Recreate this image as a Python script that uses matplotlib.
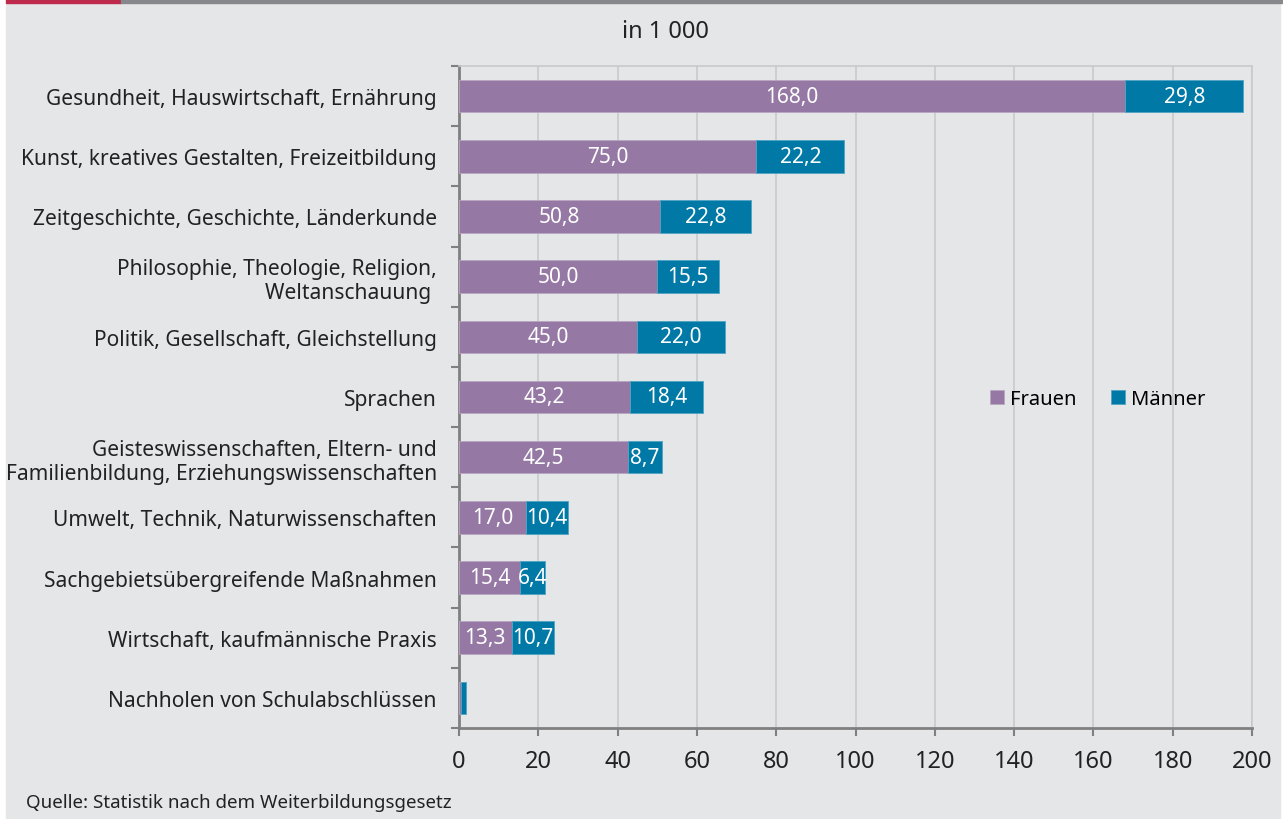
import numpy as np
import matplotlib.pyplot as plt
from matplotlib.patches import Rectangle

plt.rcParams['font.family'] = ['Noto Sans', 'DejaVu Sans']

categories = [
    "Gesundheit, Hauswirtschaft, Ernährung",
    "Kunst, kreatives Gestalten, Freizeitbildung",
    "Zeitgeschichte, Geschichte, Länderkunde",
    "Philosophie, Theologie, Religion,\nWeltanschauung ",
    "Politik, Gesellschaft, Gleichstellung",
    "Sprachen",
    "Geisteswissenschaften, Eltern- und\nFamilienbildung, Erziehungswissenschaften",
    "Umwelt, Technik, Naturwissenschaften",
    "Sachgebietsübergreifende Maßnahmen",
    "Wirtschaft, kaufmännische Praxis",
    "Nachholen von Schulabschlüssen",
]
frauen = [168.0, 75.0, 50.8, 50.0, 45.0, 43.2, 42.5, 17.0, 15.4, 13.3, 0.5]
maenner = [29.8, 22.2, 22.8, 15.5, 22.0, 18.4, 8.7, 10.4, 6.4, 10.7, 1.2]
x_ticks = [0, 20, 40, 60, 80, 100, 120, 140, 160, 180, 200]

bg = "#e5e6e8"
purple = "#9579a4"
blue = "#0079a6"
txt = "#222222"

fig = plt.figure(figsize=(12.83, 8.2), dpi=100, facecolor="white")
# grey panel and coloured stripe on top
fig.patches.append(Rectangle((6 / 1283, 0), 1274 / 1283, 1 - 4 / 820,
                             transform=fig.transFigure, color=bg, zorder=-10))
fig.patches.append(Rectangle((6 / 1283, 1 - 4 / 820), 115 / 1283, 4 / 820,
                             transform=fig.transFigure, color="#be2a4b", zorder=-9))
fig.patches.append(Rectangle((121 / 1283, 1 - 4 / 820), 1162 / 1283, 4 / 820,
                             transform=fig.transFigure, color="#87888c", zorder=-9))

ax = fig.add_axes([459 / 1283, 1 - 729 / 820, (1252 - 459) / 1283, (729 - 67) / 820])
ax.set_facecolor(bg)

y = np.arange(len(categories))
h = 0.54
ax.barh(y, frauen, height=h, color=purple, edgecolor="#b9a6c2", linewidth=0.6,
        label="Frauen", zorder=3)
ax.barh(y, maenner, left=frauen, height=h, color=blue, edgecolor="#4fa3c4",
        linewidth=0.6, label="Männer", zorder=3)

for i in range(len(categories) - 1):
    ax.text(frauen[i] / 2, y[i], f"{frauen[i]:.1f}".replace(".", ","),
            ha="center", va="center", color="white", fontsize=15, zorder=4)
    ax.text(frauen[i] + maenner[i] / 2, y[i], f"{maenner[i]:.1f}".replace(".", ","),
            ha="center", va="center", color="white", fontsize=15, zorder=4)

ax.set_xlim(0, 200)
ax.set_ylim(len(categories) - 0.5, -0.5)
ax.set_xticks(x_ticks)
ax.set_xticklabels([str(t) for t in x_ticks], fontsize=17, color=txt)
ax.grid(axis="x", color="#c9cacc", linewidth=1.2, zorder=0)

# category labels between boundary ticks
ax.set_yticks(np.arange(-0.5, len(categories), 1))
ax.set_yticklabels([])
ax.set_yticks(y, minor=True)
ax.set_yticklabels(categories, minor=True, fontsize=15.1, color=txt,
                   linespacing=1.2)
ax.tick_params(axis="y", which="minor", length=0, pad=16)
ax.tick_params(axis="y", which="major", length=6, width=1.5, color="#808080")
ax.tick_params(axis="x", length=6, width=1.5, color="#808080", pad=9)

for side in ["left", "bottom"]:
    ax.spines[side].set_color("#808080")
    ax.spines[side].set_linewidth(2)
for side in ["top", "right"]:
    ax.spines[side].set_color("#c9cacc")
    ax.spines[side].set_linewidth(1.2)

ax.legend(loc="center", bbox_to_anchor=(0.805, 0.497), ncol=2, frameon=False,
          fontsize=14.5, handlelength=0.7, handleheight=0.7, handletextpad=0.3,
          columnspacing=1.7)

fig.text(665 / 1283, 1 - 32 / 820, "in 1 000", ha="center", va="center",
         fontsize=17, color=txt)
fig.text(26 / 1283, 1 - 803 / 820, "Quelle: Statistik nach dem Weiterbildungsgesetz",
         ha="left", va="center", fontsize=13.5, color=txt)

fig.savefig("out.png", dpi=100, facecolor="white")
